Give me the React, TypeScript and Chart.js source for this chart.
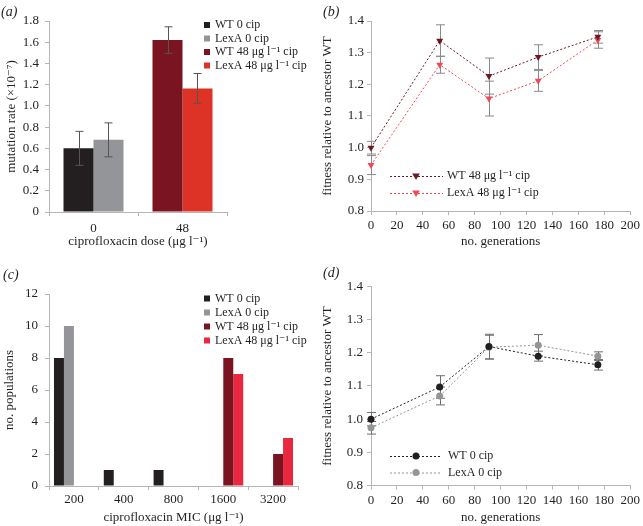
import React, { useEffect, useRef } from 'react';
import { Chart, registerables } from 'chart.js';

Chart.register(...registerables);

// ---------------- data ----------------
const seriesWT0 = 'WT 0 cip';
const seriesLexA0 = 'LexA 0 cip';
const seriesWT48 = 'WT 48 μg l⁻¹ cip';
const seriesLexA48 = 'LexA 48 μg l⁻¹ cip';

// (a) mutation rate
const doseLabels = ['0', '48'];
const rateWT0 = [0.6, null];
const rateLexA0 = [0.68, null];
const rateWT48 = [null, 1.62];
const rateLexA48 = [null, 1.165];
const rateErrWT0 = [0.16, null];
const rateErrLexA0 = [0.16, null];
const rateErrWT48 = [null, 0.125];
const rateErrLexA48 = [null, 0.14];

// (b) fitness, 48 μg/l cip
const generations = [0, 53, 91, 129, 175];
const fitWT48 = [1.0, 1.338, 1.226, 1.286, 1.35];
const fitLexA48 = [0.945, 1.262, 1.155, 1.211, 1.34];
const fitErrWT48 = [0.02, 0.05, 0.057, 0.039, 0.02];
const fitErrLexA48 = [0.03, 0.027, 0.055, 0.033, 0.026];

// (c) MIC distribution
const micLabels = ['200', '400', '800', '1600', '3200'];
const micWT0 = [8, 1, 1, 0, 0];
const micLexA0 = [10, 0, 0, 0, 0];
const micWT48 = [0, 0, 0, 8, 2];
const micLexA48 = [0, 0, 0, 7, 3];

// (d) fitness, 0 cip
const fitWT0 = [1.0, 1.097, 1.219, 1.19, 1.164];
const fitLexA0 = [0.974, 1.07, 1.217, 1.223, 1.19];
const fitErrWT0 = [0.02, 0.034, 0.037, 0.015, 0.016];
const fitErrLexA0 = [0.019, 0.027, 0.036, 0.032, 0.013];

// ---------------- styles ----------------
const FONT = "'Liberation Serif', 'Times New Roman', 'DejaVu Serif', serif";
const TEXT = '#231f20';
const AXIS = '#b5b5b5';
const C_WT0 = '#231f20';
const C_LEXA0 = '#939598';
const C_WT48 = '#7a1420';
const C_LEXA48_A = '#dd3226';
const C_LEXA48_C = '#e8283f';
const C_WT48_LINE = '#6e1622';
const C_LEXA48_LINE = '#ee4a55';

// ---------------- plugins ----------------
function drawErrors(chart: any, opts: any) {
  const ctx = chart.ctx;
  const ys = chart.scales.y;
  ctx.save();
  ctx.strokeStyle = opts.color;
  ctx.lineWidth = opts.width;
  chart.data.datasets.forEach((ds: any, di: number) => {
    const errs = ds.errors;
    if (!errs) return;
    const meta = chart.getDatasetMeta(di);
    meta.data.forEach((el: any, i: number) => {
      const raw = ds.data[i];
      const v = raw == null ? null : typeof raw === 'object' ? raw.y : raw;
      const e = errs[i];
      if (v == null || e == null) return;
      const x = Math.round(el.x) + 0.5;
      const y1 = ys.getPixelForValue(v + e);
      const y2 = ys.getPixelForValue(v - e);
      ctx.beginPath();
      ctx.moveTo(x, y1);
      ctx.lineTo(x, y2);
      ctx.moveTo(x - opts.cap, y1);
      ctx.lineTo(x + opts.cap, y1);
      ctx.moveTo(x - opts.cap, y2);
      ctx.lineTo(x + opts.cap, y2);
      ctx.stroke();
    });
  });
  ctx.restore();
}

const errorBarPlugin = {
  id: 'errorBars',
  beforeDatasetsDraw(chart: any, _a: any, opts: any) {
    if (opts && opts.layer === 'before') drawErrors(chart, opts);
  },
  afterDatasetsDraw(chart: any, _a: any, opts: any) {
    if (opts && opts.layer === 'after') drawErrors(chart, opts);
  },
};

function drawMarker(ctx: any, style: string, x: number, y: number, r: number) {
  ctx.beginPath();
  if (style === 'triangleDown') {
    ctx.moveTo(x, y + r);
    ctx.lineTo(x - r * 0.95, y - r * 0.6);
    ctx.lineTo(x + r * 0.95, y - r * 0.6);
    ctx.closePath();
  } else {
    ctx.arc(x, y, r, 0, Math.PI * 2);
  }
  ctx.fill();
}

const decorPlugin = {
  id: 'decor',
  afterDraw(chart: any, _a: any, opts: any) {
    const ctx = chart.ctx;
    ctx.save();
    ctx.textAlign = 'left';
    ctx.textBaseline = 'middle';
    if (opts.label) {
      ctx.font = `italic 14px ${FONT}`;
      ctx.fillStyle = TEXT;
      ctx.fillText(opts.label, opts.labelX, opts.labelY);
    }
    const lg = opts.legend;
    if (lg) {
      chart.data.datasets.forEach((ds: any, i: number) => {
        const y = lg.y + i * lg.step;
        if (lg.kind === 'box') {
          ctx.fillStyle = ds.backgroundColor;
          ctx.fillRect(lg.x, y - lg.size / 2, lg.size, lg.size);
        } else {
          ctx.strokeStyle = ds.borderColor;
          ctx.lineWidth = 1;
          ctx.setLineDash([2, 2]);
          ctx.beginPath();
          ctx.moveTo(lg.x1, y + 0.5);
          ctx.lineTo(lg.x2, y + 0.5);
          ctx.stroke();
          ctx.setLineDash([]);
          ctx.fillStyle = ds.pointBackgroundColor;
          drawMarker(ctx, lg.marker, lg.mx, y, lg.r);
        }
        ctx.font = `12px ${FONT}`;
        ctx.fillStyle = TEXT;
        ctx.fillText(ds.label, lg.textX, y);
      });
    }
    ctx.restore();
  },
};

// ---------------- axis helpers ----------------
const tickFont = { family: FONT, size: 13 };
const titleFont = { family: FONT, size: 13 };

function yAxis(min: number, max: number, step: number, title: string, width: number, labelPad: number, titlePad: number) {
  return {
    min,
    max,
    ticks: {
      stepSize: step,
      color: TEXT,
      font: tickFont,
      padding: labelPad,
      callback: (v: any) => (v === 0 ? '0' : Number(v).toFixed(step < 1 ? 1 : 0)),
    },
    grid: { drawOnChartArea: false, drawTicks: true, tickLength: 4, color: AXIS, tickColor: AXIS },
    border: { display: true, color: AXIS, width: 1 },
    title: { display: true, text: title, color: TEXT, font: titleFont, padding: { top: titlePad, bottom: 0 } },
    afterFit: (s: any) => {
      s.width = width;
    },
  };
}

function xCategory(title: string, height: number, labelPad: number, titlePad: number) {
  return {
    type: 'category',
    offset: true,
    ticks: { color: TEXT, font: tickFont, padding: labelPad, maxRotation: 0, autoSkip: false },
    grid: { offset: true, drawOnChartArea: false, drawTicks: true, tickLength: 4, color: AXIS, tickColor: AXIS },
    border: { display: true, color: AXIS, width: 1 },
    title: { display: true, text: title, color: TEXT, font: titleFont, padding: { top: 0, bottom: titlePad } },
    afterFit: (s: any) => {
      s.height = height;
    },
  };
}

function xLinear(title: string, height: number, labelPad: number, titlePad: number) {
  return {
    type: 'linear',
    min: 0,
    max: 200,
    ticks: { stepSize: 20, color: TEXT, font: tickFont, padding: labelPad, maxRotation: 0, autoSkip: false },
    grid: { drawOnChartArea: false, drawTicks: true, tickLength: 4, color: AXIS, tickColor: AXIS },
    border: { display: true, color: AXIS, width: 1 },
    title: { display: true, text: title, color: TEXT, font: titleFont, padding: { top: 0, bottom: titlePad } },
    afterFit: (s: any) => {
      s.height = height;
    },
  };
}

function pts(ys: number[]) {
  return generations.map((g, i) => ({ x: g, y: ys[i] }));
}

function lineDs(label: string, ys: number[], errs: number[], color: string, marker: string, r: number) {
  return {
    label,
    data: pts(ys),
    errors: errs,
    borderColor: color,
    backgroundColor: color,
    pointBackgroundColor: color,
    pointBorderColor: color,
    pointBorderWidth: 0,
    borderWidth: 1,
    borderDash: [2, 2],
    pointStyle: marker,
    pointRotation: marker === 'triangle' ? 180 : 0,
    pointRadius: r,
    tension: 0,
    clip: false,
  };
}

function baseOptions(padding: any) {
  return {
    responsive: false,
    maintainAspectRatio: false,
    animation: false,
    events: [],
    layout: { padding },
    plugins: { legend: { display: false }, tooltip: { enabled: false } },
  };
}

export default function App() {
  const refA = useRef<HTMLCanvasElement>(null);
  const refB = useRef<HTMLCanvasElement>(null);
  const refC = useRef<HTMLCanvasElement>(null);
  const refD = useRef<HTMLCanvasElement>(null);

  useEffect(() => {
    const optsA: any = baseOptions({ left: 0, right: 93, top: 21, bottom: 0 });
    optsA.scales = {
      x: xCategory('ciprofloxacin dose (μg l⁻¹)', 48, 5, 10.2),
      y: yAxis(0, 1.8, 0.2, 'mutation rate (×10⁻⁷)', 49, 6, 4.2),
    };
    optsA.plugins.errorBars = { layer: 'after', color: '#555', width: 1, cap: 4 };
    optsA.plugins.decor = {
      label: '(a)', labelX: 1, labelY: 12.5,
      legend: { kind: 'box', x: 204, size: 6, textX: 215, y: 25, step: 13.5 },
    };
    const chartA = new Chart(refA.current as any, {
      type: 'bar',
      data: {
        labels: doseLabels,
        datasets: [
          { label: seriesWT0, data: rateWT0, errors: rateErrWT0, backgroundColor: C_WT0 },
          { label: seriesLexA0, data: rateLexA0, errors: rateErrLexA0, backgroundColor: C_LEXA0 },
          { label: seriesWT48, data: rateWT48, errors: rateErrWT48, backgroundColor: C_WT48 },
          { label: seriesLexA48, data: rateLexA48, errors: rateErrLexA48, backgroundColor: C_LEXA48_A },
        ].map((d: any) => ({ ...d, skipNull: true, categoryPercentage: 0.674, barPercentage: 1, borderWidth: 0 })),
      } as any,
      options: optsA,
      plugins: [errorBarPlugin, decorPlugin],
    } as any);

    const optsB: any = baseOptions({ left: 0, right: 11, top: 21, bottom: 0 });
    optsB.scales = {
      x: xLinear('no. generations', 49, 3, 10.2),
      y: yAxis(0.8, 1.4, 0.1, 'fitness relative to ancestor WT', 51, 3, 0.2),
    };
    optsB.plugins.errorBars = { layer: 'before', color: '#8a8a8a', width: 1, cap: 4.5 };
    optsB.plugins.decor = {
      label: '(b)', labelX: 3, labelY: 12,
      legend: { kind: 'line', x1: 70, x2: 123, mx: 96, r: 4, marker: 'triangleDown', textX: 127, y: 176, step: 17 },
    };
    const chartB = new Chart(refB.current as any, {
      type: 'line',
      data: {
        datasets: [
          lineDs(seriesWT48, fitWT48, fitErrWT48, C_WT48_LINE, 'triangle', 4),
          lineDs(seriesLexA48, fitLexA48, fitErrLexA48, C_LEXA48_LINE, 'triangle', 4),
        ],
      } as any,
      options: optsB,
      plugins: [errorBarPlugin, decorPlugin],
    } as any);

    const optsC: any = baseOptions({ left: 0, right: 22, top: 34, bottom: 0 });
    optsC.scales = {
      x: xCategory('ciprofloxacin MIC (μg l⁻¹)', 40, 2, 0.7),
      y: yAxis(0, 12, 2, 'no. populations', 49, 7, 2.2),
    };
    optsC.plugins.decor = {
      label: '(c)', labelX: 3, labelY: 15,
      legend: { kind: 'box', x: 204, size: 6, textX: 215, y: 38.5, step: 14 },
    };
    const chartC = new Chart(refC.current as any, {
      type: 'bar',
      data: {
        labels: micLabels,
        datasets: [
          { label: seriesWT0, data: micWT0, backgroundColor: C_WT0 },
          { label: seriesLexA0, data: micLexA0, backgroundColor: C_LEXA0 },
          { label: seriesWT48, data: micWT48, backgroundColor: C_WT48 },
          { label: seriesLexA48, data: micLexA48, backgroundColor: C_LEXA48_C },
        ].map((d: any) => ({ ...d, categoryPercentage: 0.8, barPercentage: 1, borderWidth: 0 })),
      } as any,
      options: optsC,
      plugins: [decorPlugin],
    } as any);

    const optsD: any = baseOptions({ left: 0, right: 11, top: 26.5, bottom: 0 });
    optsD.scales = {
      x: xLinear('no. generations', 40.5, 3, 0.7),
      y: yAxis(0.8, 1.4, 0.1, 'fitness relative to ancestor WT', 51, 4, 0.2),
    };
    optsD.plugins.errorBars = { layer: 'before', color: '#6f6f6f', width: 1, cap: 4.5 };
    optsD.plugins.decor = {
      label: '(d)', labelX: 3, labelY: 13,
      legend: { kind: 'line', x1: 70, x2: 122, mx: 96, r: 3.5, marker: 'circle', textX: 128, y: 196, step: 16.5 },
    };
    const chartD = new Chart(refD.current as any, {
      type: 'line',
      data: {
        datasets: [
          lineDs(seriesWT0, fitWT0, fitErrWT0, C_WT0, 'circle', 3.5),
          lineDs(seriesLexA0, fitLexA0, fitErrLexA0, C_LEXA0, 'circle', 3.5),
        ],
      } as any,
      options: optsD,
      plugins: [errorBarPlugin, decorPlugin],
    } as any);

    return () => {
      chartA.destroy();
      chartB.destroy();
      chartC.destroy();
      chartD.destroy();
    };
  }, []);

  const cs = (l: number, t: number, w: number, h: number): React.CSSProperties => ({
    position: 'absolute', left: l, top: t, width: w, height: h, display: 'block',
  });

  return (
    <div style={{ position: 'absolute', left: 0, top: 0, width: 643, height: 526, background: '#fff', overflow: 'hidden' }}>
      <canvas ref={refA} width={320} height={260} style={cs(0, 0, 320, 260)} />
      <canvas ref={refB} width={323} height={260} style={cs(320, 0, 323, 260)} />
      <canvas ref={refC} width={320} height={266} style={cs(0, 260, 320, 266)} />
      <canvas ref={refD} width={323} height={266} style={cs(320, 260, 323, 266)} />
    </div>
  );
}
